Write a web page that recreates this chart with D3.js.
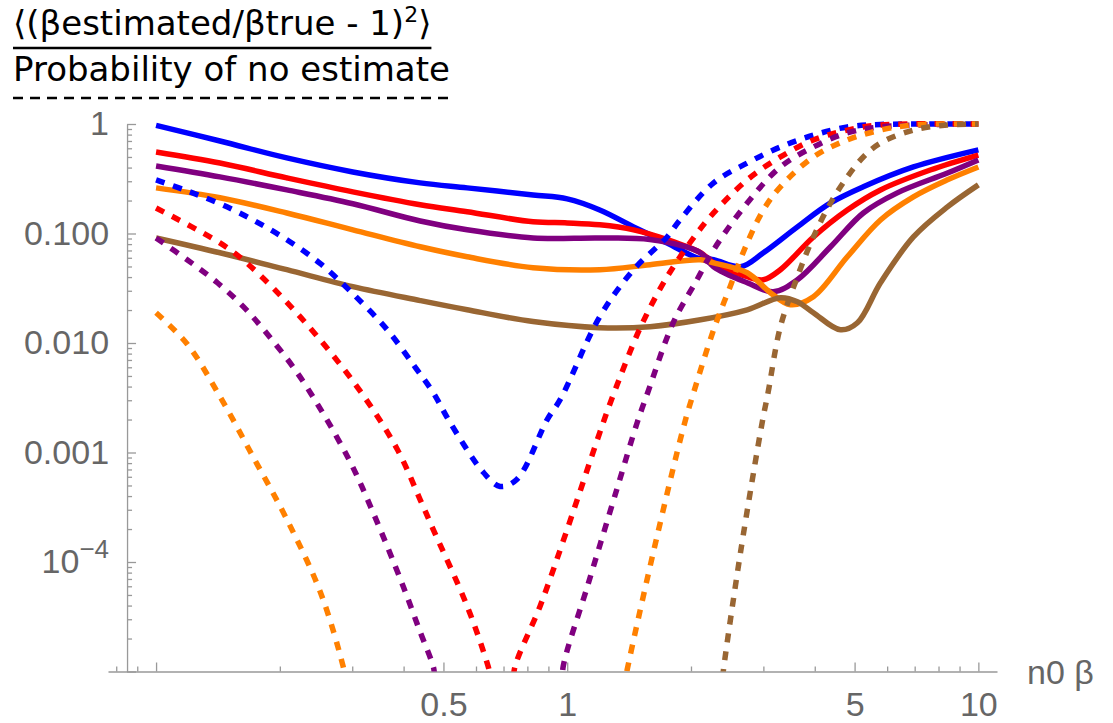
<!DOCTYPE html>
<html>
<head>
<meta charset="utf-8">
<script src="https://d3js.org/d3.v7.min.js"></script>
<style>
    body { margin: 0; background: #fff; }
    .title { font-family: "DejaVu Sans", sans-serif; font-size: 34px; fill: #000; }
    .axis text { font-family: "Liberation Sans", Arial, sans-serif; font-size: 34px; fill: #666; }
    .axis line, .axis path { stroke: #999; stroke-width: 1.3; }
</style>
</head>
<body>
<div id="vis" style="width:1113px;height:723px"></div>
<script>
// pairs of [n0 β, value]
const blueMse = [[0.1,0.97],[0.143,0.70],[0.208,0.49],[0.301,0.365],[0.439,0.29],[0.571,0.261],[0.826,0.225],[1.0,0.207],[1.2,0.164],[1.45,0.115],[1.75,0.082],[2.07,0.06],[2.27,0.0576],[2.64,0.0497],[3.0,0.0667],[3.63,0.115],[4.37,0.19],[5.25,0.267],[6.95,0.405],[10,0.58]];
const redMse = [[0.1,0.556],[0.143,0.44],[0.208,0.322],[0.301,0.24],[0.439,0.183],[0.571,0.158],[0.826,0.128],[1.0,0.125],[1.2,0.12],[1.45,0.108],[1.75,0.088],[2.11,0.0667],[2.27,0.054],[2.74,0.0403],[3.0,0.0378],[3.3,0.0467],[3.97,0.093],[4.8,0.164],[5.78,0.25],[7.64,0.38],[10,0.52]];
const purpleMse = [[0.1,0.414],[0.143,0.329],[0.208,0.25],[0.301,0.187],[0.439,0.13],[0.571,0.108],[0.826,0.091],[1.2,0.091],[1.59,0.088],[2.11,0.0667],[2.27,0.0497],[2.74,0.0355],[3.17,0.0294],[3.63,0.0378],[4.37,0.0756],[5.25,0.154],[6.35,0.235],[8.41,0.357],[10,0.47]];
const orangeMse = [[0.1,0.261],[0.143,0.212],[0.208,0.154],[0.301,0.108],[0.439,0.0756],[0.571,0.0613],[0.826,0.0487],[1.2,0.0467],[1.59,0.0519],[2.11,0.0576],[2.27,0.054],[2.74,0.0438],[3.12,0.0288],[3.49,0.0224],[3.97,0.0265],[4.8,0.0613],[5.78,0.133],[6.95,0.216],[8.41,0.309],[10,0.405]];
const brownMse = [[0.1,0.091],[0.143,0.0667],[0.208,0.0467],[0.301,0.0327],[0.439,0.0244],[0.571,0.0201],[0.826,0.0157],[1.2,0.0138],[1.59,0.0141],[2.11,0.0163],[2.74,0.0201],[3.3,0.0259],[3.63,0.0238],[3.97,0.0189],[4.62,0.0132],[5.08,0.0153],[5.78,0.0355],[6.95,0.093],[8.41,0.175],[10,0.278]];

const blueProb = [[0.1,0.309],[0.119,0.245],[0.143,0.187],[0.172,0.133],[0.208,0.0877],[0.251,0.053],[0.301,0.0282],[0.365,0.0132],[0.427,0.006],[0.472,0.00353],[0.519,0.00188],[0.625,0.00066],[0.687,0.00049],[0.755,0.00057],[0.894,0.002],[0.962,0.00305],[1.2,0.0174],[1.45,0.0467],[1.75,0.093],[1.88,0.133],[2.27,0.29],[2.74,0.44],[3.3,0.617],[3.97,0.79],[4.8,0.94],[5.78,0.99],[10,1]];
const redProb = [[0.1,0.171],[0.143,0.082],[0.166,0.054],[0.224,0.0174],[0.308,0.004],[0.386,0.00107],[0.439,0.00037],[0.472,0.000199],[0.571,0.0000395],[0.642,0.0000112],[0.67,0.000006],[0.726,0.000006],[0.747,0.0000112],[0.859,0.0000395],[1.0,0.000199],[1.2,0.00152],[1.29,0.00325],[1.51,0.0141],[1.75,0.0403],[2.07,0.101],[2.27,0.154],[2.74,0.309],[3.3,0.5],[3.97,0.715],[4.8,0.88],[5.78,0.98],[10,1]];
const purpleProb = [[0.1,0.091],[0.119,0.0576],[0.141,0.0355],[0.163,0.0215],[0.186,0.0122],[0.224,0.0049],[0.292,0.00092],[0.337,0.000284],[0.399,0.00006],[0.439,0.0000229],[0.472,0.0000112],[0.491,0.000006],[0.962,0.000006],[0.978,0.0000112],[1.12,0.00006],[1.32,0.00046],[1.48,0.00188],[1.57,0.00353],[1.81,0.0153],[2.07,0.038],[2.27,0.071],[2.74,0.19],[3.3,0.405],[3.97,0.617],[4.8,0.83],[5.78,0.94],[10,1]];
const orangeProb = [[0.1,0.0189],[0.119,0.0098],[0.143,0.00325],[0.172,0.00092],[0.208,0.000245],[0.251,0.000053],[0.285,0.0000112],[0.295,0.000006],[1.36,0.000006],[1.40,0.0000105],[1.62,0.000123],[1.92,0.00173],[2.03,0.00353],[2.27,0.0132],[2.49,0.0327],[2.74,0.082],[3.0,0.164],[3.3,0.267],[3.97,0.5],[4.8,0.715],[5.78,0.88],[6.95,0.98],[10,1]];
const brownProb = [[2.36,0.000006],[2.40,0.0000105],[2.64,0.000123],[2.98,0.00188],[3.08,0.00353],[3.3,0.0141],[3.63,0.0403],[3.97,0.093],[4.37,0.19],[4.8,0.329],[5.25,0.5],[5.78,0.67],[6.95,0.88],[8.41,0.98],[10,1]];

const seriesColours = ["#0000ff", "#ff0000", "#800080", "#ff8000", "#996633"];
const mseSeries = [blueMse, redMse, purpleMse, orangeMse, brownMse];
const probSeries = [blueProb, redProb, purpleProb, orangeProb, brownProb];

const xMajorTicks = [0.1, 0.5, 1, 5, 10];
const xTickLabels = ["", "0.5", "1", "5", "10"];
const xMinorTicks = [0.08, 0.09, 0.2, 0.3, 0.4, 0.6, 0.7, 0.8, 0.9, 2, 3, 4, 6, 7, 8, 9];
const yMajorTicks = [1, 0.1, 0.01, 0.001, 1e-4, 1e-5];
const yTickLabels = ["1", "0.100", "0.010", "0.001", "10^\u22124", ""];
const xLabel = "n0 β";
const titleLines = ["\u27E8(βestimated/βtrue - 1)^2\u27E9", "Probability of no estimate"];


class chart{
    constructor(){
        this.width = 1113,
        this.height = 723,
        this.svg,
        this.x,
        this.y
    }

    init(elementID){
        this.svg = d3.select('#'+elementID)
            .append("svg")
            .attr("width", this.width)
            .attr("height", this.height);

        // axis lines run a bit past the data, like the original
        this.x = d3.scaleLog().domain([0.0764, 11.1]).range([108, 997]);
        this.y = d3.scaleLog().domain([1e-5, 1]).range([671.5, 124]);

        this.drawTitle();
        this.drawAxes();
        this.drawCurves();
    }

    // splits "a^b" into normal and superscript tspans
    writeSup(sel, label, supSize, shift){
        let parts = label.split("^");
        sel.text(parts[0]);
        if (parts.length > 1){
            let rest = parts[1];
            let sup = rest, tail = "";
            if (rest.indexOf("\u27E9") >= 0){
                sup = rest.replace("\u27E9", "");
                tail = "\u27E9";
            }
            sel.append("tspan").attr("font-size", supSize).attr("dy", -shift).text(sup);
            if (tail != ""){
                sel.append("tspan").attr("dy", shift).text(tail);
            }
        }
    }

    drawTitle(){
        let t1 = this.svg.append("text").attr("class", "title").attr("x", 13).attr("y", 35);
        this.writeSup(t1, titleLines[0], "22px", 13);
        let t2 = this.svg.append("text").attr("class", "title").attr("x", 13).attr("y", 81).text(titleLines[1]);

        let b1 = t1.node().getBBox();
        let b2 = t2.node().getBBox();
        this.svg.append("line")
            .attr("x1", 13).attr("x2", b1.x + b1.width)
            .attr("y1", 48).attr("y2", 48)
            .attr("stroke", "#000").attr("stroke-width", 2.5);
        this.svg.append("line")
            .attr("x1", 13).attr("x2", b2.x + b2.width + 2)
            .attr("y1", 98).attr("y2", 98)
            .attr("stroke", "#000").attr("stroke-width", 2.5)
            .attr("stroke-dasharray", "10,7");
    }

    drawAxes(){
        let yPos = this.x(0.085);
        let xPos = this.y(1e-5);

        let yMinor = [];
        for (let k = -5; k < 0; k++){
            for (let d = 2; d < 10; d++){
                yMinor.push(d * Math.pow(10, k));
            }
        }

        let gy = this.svg.append("g").attr("class", "axis")
            .attr("transform", "translate(" + yPos + ",0)")
            .call(d3.axisLeft(this.y).tickValues(yMajorTicks).tickSize(-9).tickSizeOuter(0).tickPadding(18)
                .tickFormat(function(d, i){ return yTickLabels[i]; }));
        gy.attr("font-size", null).attr("font-family", null);
        let self = this;
        gy.selectAll(".tick text").each(function(d, i){
            let label = yTickLabels[i];
            if (label.indexOf("^") >= 0){
                d3.select(this).text(null);
                self.writeSup(d3.select(this), label, "26px", 15);
            }
        });

        this.svg.append("g").attr("class", "axis")
            .attr("transform", "translate(" + yPos + ",0)")
            .call(d3.axisLeft(this.y).tickValues(yMinor).tickSize(-5).tickSizeOuter(0).tickFormat(""))
            .select(".domain").remove();

        let gx = this.svg.append("g").attr("class", "axis")
            .attr("transform", "translate(0," + xPos + ")")
            .call(d3.axisBottom(this.x).tickValues(xMajorTicks).tickSize(-9).tickSizeOuter(0).tickPadding(20)
                .tickFormat(function(d, i){ return xTickLabels[i]; }));
        gx.attr("font-size", null).attr("font-family", null);

        this.svg.append("g").attr("class", "axis")
            .attr("transform", "translate(0," + xPos + ")")
            .call(d3.axisBottom(this.x).tickValues(xMinorTicks).tickSize(-5).tickSizeOuter(0).tickFormat(""))
            .select(".domain").remove();

        this.svg.append("g").attr("class", "axis")
            .append("text")
            .attr("x", 1027).attr("y", xPos + 12)
            .text(xLabel);
    }

    drawCurves(){
        let x = this.x, y = this.y;
        this.svg.append("clipPath").attr("id", "plotArea")
            .append("rect")
            .attr("x", x(0.085)).attr("y", 100)
            .attr("width", 1000 - x(0.085)).attr("height", y(1e-5) - 100);

        let line = d3.line()
            .x(function(d){ return x(d[0]); })
            .y(function(d){ return y(d[1]); })
            .curve(d3.curveCatmullRom.alpha(0.5));

        let g = this.svg.append("g").attr("clip-path", "url(#plotArea)");

        g.selectAll(".mse").data(mseSeries).enter()
            .append("path")
            .attr("class", "mse")
            .attr("d", line)
            .attr("fill", "none")
            .attr("stroke", function(d, i){ return seriesColours[i]; })
            .attr("stroke-width", 5.5);

        g.selectAll(".prob").data(probSeries).enter()
            .append("path")
            .attr("class", "prob")
            .attr("d", line)
            .attr("fill", "none")
            .attr("stroke", function(d, i){ return seriesColours[i]; })
            .attr("stroke-width", 5.5)
            .attr("stroke-dasharray", "9,9");
    }
}

var plot = new chart();
plot.init("vis");
</script>
</body>
</html>
